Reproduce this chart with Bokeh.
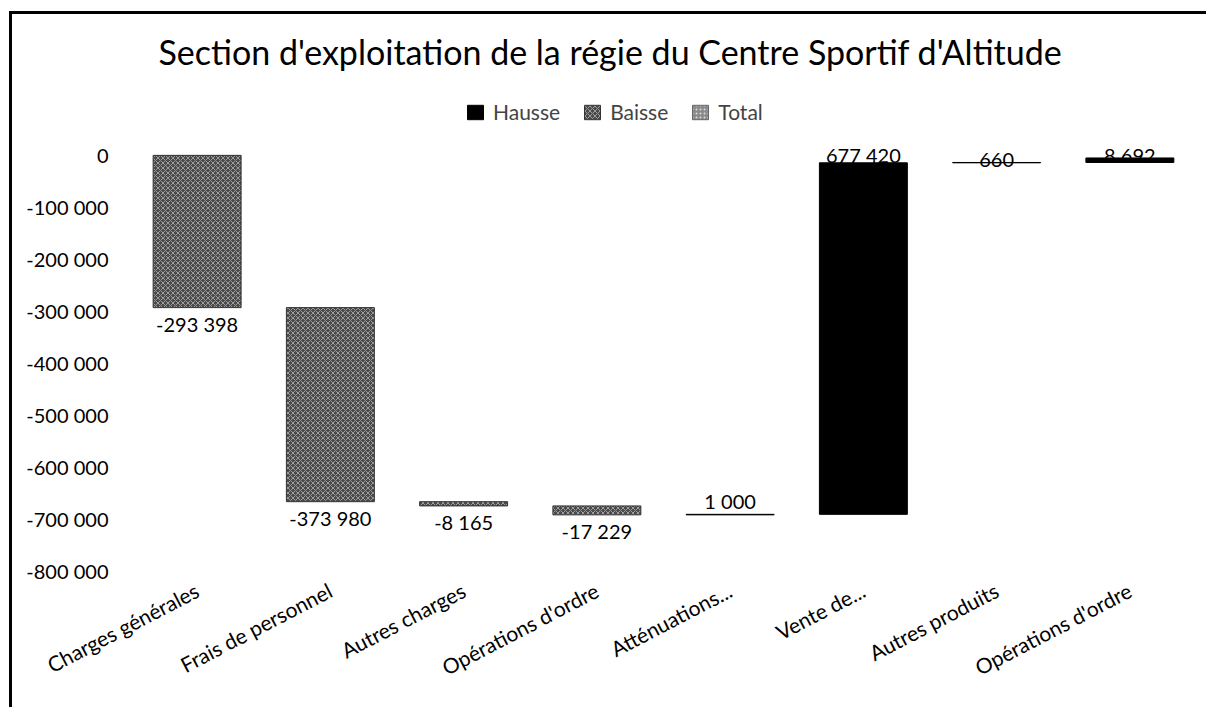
import numpy as np
from bokeh.plotting import figure
from bokeh.models import (ColumnDataSource, FixedTicker, CustomJSTickFormatter,
                          Legend, LegendItem, Title, Range1d, InlineStyleSheet)
from bokeh.core.properties import value
from bokeh.embed import file_html
from bokeh.resources import INLINE

categories = ["Charges générales", "Frais de personnel", "Autres charges",
              "Opérations d'ordre", "Atténuations...", "Vente de...",
              "Autres produits", "Opérations d'ordre"]
values = [-293398, -373980, -8165, -17229, 1000, 677420, 660, 8692]
y_ticks = [0, -100000, -200000, -300000, -400000, -500000, -600000, -700000, -800000]

FONT = "Lato"

vals = np.array(values, dtype=float)
end = np.cumsum(vals)
start = end - vals
xs = np.arange(len(values))
top = np.maximum(start, end)
bottom = np.minimum(start, end)
labels = [f"{v:,}".replace(",", " ") for v in values]

up = vals > 0
down = vals < 0

src_up = ColumnDataSource(dict(x=xs[up], top=top[up], bottom=bottom[up],
                               lab=[l for l, u in zip(labels, up) if u],
                               ly=np.minimum(top[up], -25000)))
src_down = ColumnDataSource(dict(x=xs[down], top=top[down], bottom=bottom[down],
                                 lab=[l for l, d in zip(labels, down) if d]))
# no "Total" bar in this chart: legend entry only
src_total = ColumnDataSource(dict(x=[np.nan], top=[0.0], bottom=[0.0]))

border_css = InlineStyleSheet(css="""
:host::after {
  content: ""; position: absolute; left: 9px; top: 11px; right: -8px; bottom: -8px;
  border-top: 3px solid black; border-left: 3px solid black;
  pointer-events: none; z-index: 10;
}
""")

p = figure(width=1198, height=700, output_backend="svg", toolbar_location=None,
           title=None, x_range=Range1d(-0.5, len(values) - 0.5),
           y_range=Range1d(-800000, 125000),
           min_border_left=130, min_border_right=2, min_border_top=90,
           min_border_bottom=130)
p.stylesheets = [border_css]
p.outline_line_color = None
p.xgrid.grid_line_color = None
p.ygrid.grid_line_color = None
p.background_fill_color = "white"

r_up = p.vbar(x="x", top="top", bottom="bottom", width=0.66, source=src_up,
              fill_color="black", line_color="black", line_width=1)
r_down = p.vbar(x="x", top="top", bottom="bottom", width=0.66, source=src_down,
                fill_color="#4a4a4a", line_color="#333333", line_width=1,
                hatch_pattern="x", hatch_color="white", hatch_alpha=0.45,
                hatch_scale=5, hatch_weight=1)
r_total = p.vbar(x="x", top="top", bottom="bottom", width=0.66, source=src_total,
                 fill_color="#8a8a8a", line_color="#666666",
                 hatch_pattern="dot", hatch_color="white", hatch_alpha=0.7,
                 hatch_scale=4)

p.text(x="x", y="bottom", text="lab", source=src_down, text_align="center",
       text_baseline="top", y_offset=4, text_font=value(FONT),
       text_font_size="20px", text_color="black")
p.text(x="x", y="ly", text="lab", source=src_up, text_align="center",
       text_baseline="bottom", y_offset=-1, text_font=value(FONT),
       text_font_size="20px", text_color="black")

p.yaxis.ticker = FixedTicker(ticks=y_ticks)
p.yaxis.formatter = CustomJSTickFormatter(code="""
var s = Math.abs(tick).toFixed(0).replace(/\\B(?=(\\d{3})+(?!\\d))/g, ' ');
return (tick < 0 ? '-' : '') + s;
""")
p.yaxis.axis_line_color = None
p.yaxis.major_tick_line_color = None
p.yaxis.minor_tick_line_color = None
p.yaxis.major_label_text_font = FONT
p.yaxis.major_label_text_font_size = "20px"
p.yaxis.major_label_text_color = "black"
p.yaxis.major_label_standoff = 16

p.xaxis.ticker = FixedTicker(ticks=list(xs))
p.xaxis.major_label_overrides = {int(i): c for i, c in zip(xs, categories)}
p.xaxis.axis_line_color = None
p.xaxis.major_tick_line_color = None
p.xaxis.minor_tick_line_color = None
p.xaxis.major_label_orientation = 0.48
p.xaxis.major_label_text_font = FONT
p.xaxis.major_label_text_font_size = "21px"
p.xaxis.major_label_text_color = "black"
p.xaxis.major_label_standoff = 12

legend = Legend(items=[LegendItem(label="Hausse", renderers=[r_up]),
                       LegendItem(label="Baisse", renderers=[r_down]),
                       LegendItem(label="Total", renderers=[r_total])],
                orientation="horizontal", location=(335, 446),
                label_text_font=FONT, label_text_font_size="21px",
                glyph_width=20, glyph_height=18, spacing=22, padding=5,
                label_standoff=8, margin=0, border_line_color=None,
                background_fill_alpha=0)
p.add_layout(legend, "center")
p.add_layout(Title(text="Section d'exploitation de la régie du Centre Sportif d'Altitude",
                   align="left", offset=28, text_font=FONT, text_font_size="34px",
                   text_font_style="normal", text_color="black", standoff=37), "above")

open("out.html", "w").write(file_html(p, INLINE))
